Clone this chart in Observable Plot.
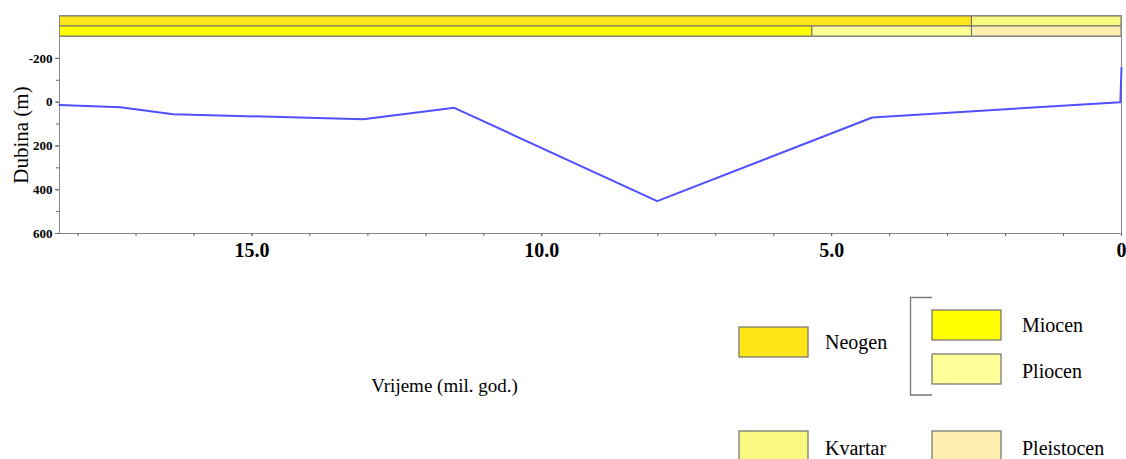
<!DOCTYPE html>
<html>
<head>
<meta charset="utf-8">
<script src="https://cdn.jsdelivr.net/npm/d3@7"></script>
<script src="https://cdn.jsdelivr.net/npm/@observablehq/plot@0.6"></script>
<style>
  html, body { margin: 0; padding: 0; background: #fff; }
  #wrap { position: relative; width: 1126px; height: 459px; overflow: hidden; font-family: "Liberation Serif", "Times New Roman", serif; }
  #wrap svg { display: block; }
  #legend { position: absolute; left: 0; top: 0; }
</style>
</head>
<body>
<div id="wrap"></div>
<script>
// ---- data ----
const ageMin = 0, ageMax = 18.32;               // Ma, visible time window
const ages   = [18.32, 17.27, 16.36, 13.08, 11.51, 8.01, 4.30, 0.02, 0];
const depths = [13,    23,    55,    78,    26,    452,  70,   0,   -157];

const periodNames  = ["Neogen", "Kvartar"];
const periodStart  = [23.03, 2.58];
const periodEnd    = [2.58, 0];
const periodColors = ["#FFE619", "#F9F97F"];

const epochNames  = ["Miocen", "Pliocen", "Pleistocen"];
const epochStart  = [23.03, 5.333, 2.58];
const epochEnd    = [5.333, 2.58, 0];
const epochColors = ["#FFFF00", "#FFFF99", "#FFEFAF"];

const yMajorTicks = [-200, 0, 200, 400, 600];
const yMinorTicks = [-200, -100, 0, 100, 200, 300, 400, 500, 600];
const xMajorTicks = [15, 10, 5, 0];
const xMinorTicks = d3.range(0, 19, 1);

const xLabel = "Vrijeme (mil. god.)";
const yLabel = "Dubina (m)";

// ---- build ----
const serif = "'Liberation Serif', 'Times New Roman', serif";
const W = 1126, mL = 59, mR = 5;
const line = ages.map((a, i) => ({age: a, depth: depths[i]}));
const bands = [
  ...periodNames.map((n, i) => ({level: "period", name: n, x1: periodStart[i], x2: periodEnd[i], color: periodColors[i]})),
  ...epochNames.map((n, i) => ({level: "epoch", name: n, x1: epochStart[i], x2: epochEnd[i], color: epochColors[i]}))
];

const wrap = document.getElementById("wrap");

const bars = Plot.plot({
  width: W, height: 36,
  marginLeft: mL, marginRight: mR, marginTop: 15, marginBottom: 0,
  style: {background: "transparent", fontFamily: serif},
  x: {domain: [ageMax, ageMin], axis: null},
  y: {domain: ["period", "epoch"], axis: null, padding: 0},
  marks: [
    Plot.barX(bands, {x1: "x1", x2: "x2", y: "level", fill: "color", stroke: "#6e6e6e", strokeWidth: 1, clip: true, inset: 0}),
    Plot.frame({stroke: "#8a8a8a"})
  ]
});
wrap.appendChild(bars);

const main = Plot.plot({
  width: W, height: 423,
  marginLeft: mL, marginRight: mR, marginTop: 0, marginBottom: 226,
  style: {background: "transparent", fontFamily: serif},
  x: {domain: [ageMax, ageMin], label: null},
  y: {domain: [-300, 600], reverse: true, label: null},
  marks: [
    Plot.frame({stroke: "#8a8a8a"}),
    Plot.axisX({ticks: xMinorTicks, tickSize: 3, text: null, stroke: "#666", label: null}),
    Plot.axisX({ticks: xMajorTicks, tickSize: 3, stroke: "#666", tickPadding: 6,
      tickFormat: d => d === 0 ? "0" : d.toFixed(1), fontSize: 20, fontWeight: "bold", fill: "#000", label: null}),
    Plot.axisY({ticks: yMinorTicks, tickSize: 3, text: null, stroke: "#666", label: null}),
    Plot.axisY({ticks: yMajorTicks, tickSize: 4, stroke: "#666", tickPadding: 3,
      tickFormat: d => String(d), fontSize: 13, fontWeight: "bold", fill: "#000", label: null}),
    Plot.line(line, {x: "age", y: "depth", stroke: "#5050ff", strokeWidth: 2}),
    Plot.text([yLabel], {frameAnchor: "left", dx: -38, dy: 0, rotate: -90, fontSize: 21, fill: "#000", textAnchor: "middle", lineAnchor: "middle"}),
    Plot.text([xLabel], {frameAnchor: "bottom-left", dx: 385, dy: 152, fontSize: 19, fill: "#000", textAnchor: "middle", lineAnchor: "middle"})
  ]
});
wrap.appendChild(main);

// ---- legend ----
const legendItems = [
  {name: "Neogen",     color: periodColors[0], bx: 739, by: 327, tx: 825, ty: 349},
  {name: "Miocen",     color: epochColors[0],  bx: 932, by: 310, tx: 1022, ty: 332},
  {name: "Pliocen",    color: epochColors[1],  bx: 932, by: 354, tx: 1022, ty: 378},
  {name: "Kvartar",    color: periodColors[1], bx: 739, by: 431, tx: 825, ty: 455},
  {name: "Pleistocen", color: epochColors[2],  bx: 932, by: 431, tx: 1022, ty: 455}
];
const lg = d3.select(wrap).append("svg").attr("id", "legend").attr("width", W).attr("height", 459)
  .style("font-family", serif);
lg.selectAll("rect").data(legendItems).join("rect")
  .attr("x", d => d.bx).attr("y", d => d.by).attr("width", 69).attr("height", 30)
  .attr("fill", d => d.color).attr("stroke", "#6e6e6e").attr("stroke-width", 1.2);
lg.selectAll("text").data(legendItems).join("text")
  .attr("x", d => d.tx).attr("y", d => d.ty).attr("font-size", 20).attr("fill", "#000")
  .text(d => d.name);
lg.append("path").attr("d", "M932,297.5H910.5V395H932").attr("fill", "none").attr("stroke", "#777").attr("stroke-width", 1.3);
</script>
</body>
</html>
